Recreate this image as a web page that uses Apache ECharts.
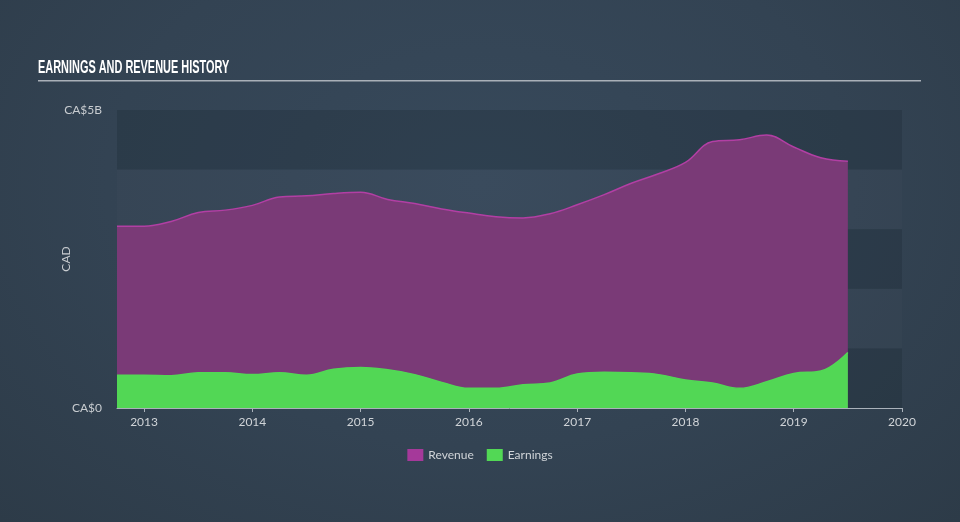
<!DOCTYPE html>
<html>
<head>
<meta charset="utf-8">
<script src="https://cdn.jsdelivr.net/npm/echarts@6/dist/echarts.min.js"></script>
<style>
html,body{margin:0;padding:0;width:960px;height:522px;overflow:hidden;}
body{background:radial-gradient(ellipse at 50% 35%, #37495b 0%, #334353 55%, #2d3b48 100%);}
#c{width:960px;height:522px;}
</style>
</head>
<body>
<div id="c"></div>
<script>
const dates = [2012.75,2013.0,2013.25,2013.5,2013.75,2014.0,2014.25,2014.5,2014.75,2015.0,2015.25,2015.5,2015.75,2016.0,2016.25,2016.5,2016.75,2017.0,2017.25,2017.5,2017.75,2018.0,2018.25,2018.5,2018.75,2019.0,2019.25,2019.5];
const revenue = [3.05,3.05,3.13,3.28,3.32,3.40,3.54,3.56,3.60,3.62,3.50,3.43,3.34,3.27,3.21,3.19,3.26,3.41,3.58,3.77,3.93,4.12,4.47,4.50,4.58,4.38,4.20,4.14];
const earnings = [0.55,0.55,0.54,0.59,0.59,0.56,0.59,0.55,0.65,0.68,0.64,0.56,0.43,0.33,0.33,0.39,0.42,0.57,0.60,0.59,0.56,0.47,0.42,0.33,0.44,0.58,0.62,0.93];
const yearTicks = [2013,2014,2015,2016,2017,2018,2019,2020];
const yLabels = {0:'CA$0', 5:'CA$5B'};

const chart = echarts.init(document.getElementById('c'), null, {renderer:'canvas'});
const font = 'Lato, "Open Sans", sans-serif';
chart.setOption({
  backgroundColor: 'transparent',
  animation: false,
  graphic: [
    {
      type:'text', left:38, top:58, scaleX:0.575, originX:0, silent:true,
      style:{text:'EARNINGS AND REVENUE HISTORY', fill:'#ffffff', fontSize:19, fontWeight:'bold',
        fontFamily:'"Liberation Sans", Arial, sans-serif'}
    },
    {
      type:'rect', shape:{x:38,y:80,width:883,height:1.5}, style:{fill:'#a9b0b8'}, silent:true
    }
  ],
  legend: {
    bottom: 56, left: 'center',
    itemWidth: 16, itemHeight: 12, itemGap: 13,
    icon: 'rect',
    textStyle: {color:'#d0d4d8', fontSize:12, fontFamily:font},
    data: [{name:'Revenue', itemStyle:{color:'#a5399a'}}, {name:'Earnings', itemStyle:{color:'#52d855'}}]
  },
  grid: {left:117, right:58, top:110, bottom:114, containLabel:false},
  xAxis: {
    type:'value', min:2012.75, max:2020,
    axisLine:{show:true, lineStyle:{color:'#aab2ba', width:1}},
    axisTick:{show:true, customValues: yearTicks, length:4, lineStyle:{color:'#aab2ba'}},
    axisLabel:{customValues: yearTicks, color:'#d0d4d8', fontSize:12, fontFamily:font, margin:8, formatter: v => String(Math.round(v))},
    splitLine:{show:false}
  },
  yAxis: {
    type:'value', min:0, max:5, interval:1,
    name:'CAD', nameLocation:'middle', nameGap:45, nameMoveOverlap:false,
    nameTextStyle:{color:'#c8ccd0', fontSize:12, fontFamily:font},
    axisLine:{show:false}, axisTick:{show:false},
    axisLabel:{color:'#c8ccd0', fontSize:12, fontFamily:font, margin:15,
      formatter: v => (yLabels[v] !== undefined ? yLabels[v] : '')},
    splitLine:{show:false},
    splitArea:{show:true, areaStyle:{color:['rgba(20,30,42,0.22)','rgba(255,255,255,0.015)']}}
  },
  series: [
    {
      name:'Revenue', type:'line', smooth:0.4, symbol:'none',
      data: dates.map((d,i)=>[d, revenue[i]]),
      lineStyle:{color:'#b23fa4', width:1.5},
      itemStyle:{color:'#a5399a'},
      areaStyle:{color:'#7a3a77', opacity:1},
      z:2
    },
    {
      name:'Earnings', type:'line', smooth:0.4, symbol:'none',
      data: dates.map((d,i)=>[d, earnings[i]]),
      lineStyle:{color:'#52d855', width:1.5},
      itemStyle:{color:'#52d855'},
      areaStyle:{color:'#52d755', opacity:1},
      z:3
    }
  ]
});
</script>
</body>
</html>
